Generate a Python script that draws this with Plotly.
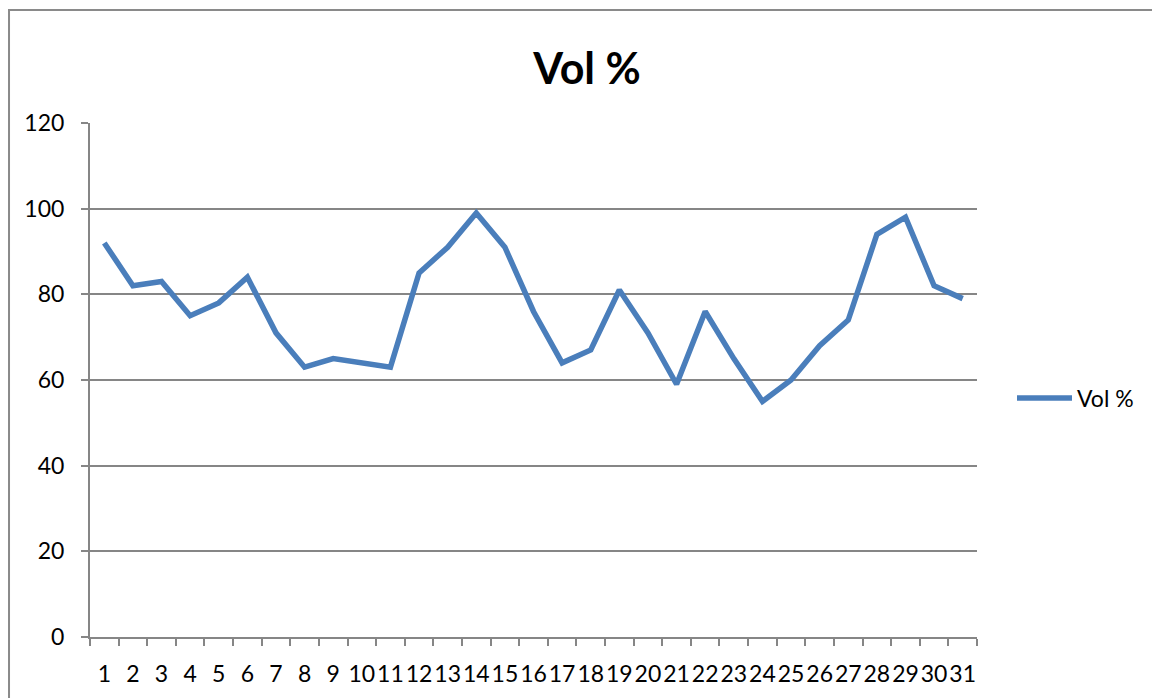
import plotly.graph_objects as go

days = [str(i) for i in range(1, 32)]
vol_pct = [92, 82, 83, 75, 78, 84, 71, 63, 65, 64, 63, 85, 91, 99, 91, 76,
           64, 67, 81, 71, 59, 76, 65, 55, 60, 68, 74, 94, 98, 82, 79]
series_name = "Vol %"

grid_col = "#868686"
line_col = "#4A7EBB"
font_fam = "Lato, 'Open Sans', sans-serif"

fig = go.Figure()
fig.add_trace(
    go.Scatter(
        x=days,
        y=vol_pct,
        mode="lines",
        name=series_name,
        line=dict(color=line_col, width=5.5),
        showlegend=False,
    )
)

# page body adds an 8px margin, so the figure is 8px smaller
fig.update_layout(
    width=1152,
    height=690,
    margin=dict(l=82, r=183, t=115, b=61),
    paper_bgcolor="white",
    plot_bgcolor="white",
    font=dict(family=font_fam, color="black", size=20),
    title=dict(
        text="<b>" + series_name + "</b>",
        x=0.5026,
        xanchor="center",
        y=0.911,
        yanchor="middle",
        font=dict(size=43, family=font_fam, color="black"),
    ),
)

fig.update_xaxes(
    type="category",
    range=[-0.5, 30.5],
    showline=True,
    linecolor=grid_col,
    linewidth=2,
    ticks="outside",
    tickson="boundaries",
    ticklen=7,
    tickcolor=grid_col,
    tickwidth=2,
    tickangle=0,
    ticklabelstandoff=15,
    showgrid=False,
    tickfont=dict(size=23),
)

fig.update_yaxes(
    range=[0, 120],
    dtick=20,
    showline=True,
    linecolor=grid_col,
    linewidth=2,
    ticks="outside",
    ticklen=7,
    tickcolor=grid_col,
    tickwidth=2,
    showgrid=True,
    gridcolor=grid_col,
    gridwidth=2,
    zeroline=False,
    ticklabelstandoff=12,
    tickfont=dict(size=23),
)

# outer chart border (left edge sits at the very left of the figure)
fig.add_shape(
    type="rect",
    xref="paper",
    yref="paper",
    x0=-0.0913,
    x1=1.25,
    y0=-0.15,
    y1=1.2198,
    line=dict(color="#8a8a8a", width=2),
    fillcolor="rgba(0,0,0,0)",
    layer="below",
)

# legend drawn Excel style: long line sample with text right after it
fig.add_shape(
    type="line",
    xref="paper",
    yref="paper",
    x0=1.0451,
    x1=1.1071,
    y0=0.465,
    y1=0.465,
    line=dict(color=line_col, width=5.5),
)
fig.add_annotation(
    text=series_name,
    xref="paper",
    yref="paper",
    x=1.1105,
    y=0.465,
    xanchor="left",
    yanchor="middle",
    showarrow=False,
    font=dict(size=23, family=font_fam, color="black"),
)

fig.write_html("out.html")
